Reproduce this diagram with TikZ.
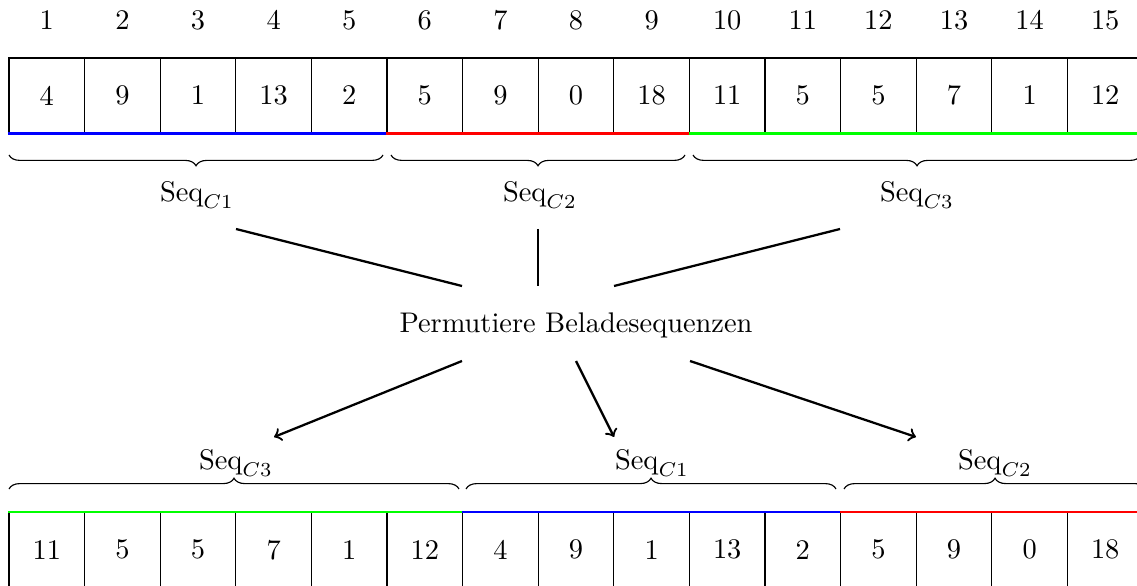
\documentclass[tikz,border=0pt]{standalone}
\usetikzlibrary{decorations.pathreplacing}
\begin{document}
\begin{tikzpicture}[x=0.352pt,y=-0.352pt,
  cell/.style={draw,inner sep=0pt,minimum width=26.6112pt,minimum height=26.4pt},
  seg/.style={thick},
  brc/.style={decorate,decoration={brace,amplitude=3.8pt}},
  conn/.style={thick},
  arr/.style={thick,->}]
\useasboundingbox (0,0) rectangle (1137,586);
\clip (0,0) rectangle (1137,586);
% top row
\foreach \v [count=\i] in {4,9,1,13,2,5,9,0,18,11,5,5,7,1,12}{
  \node[cell] (t\i) at ({9+(\i-0.5)*75.6},95.5) {\v};
  \node (n\i) at ({9+(\i-0.5)*75.6},20) {\i};
}
\draw[seg,blue] (t1.south west) -- (t5.south east);
\draw[seg,red] (t6.south west) -- (t9.south east);
\draw[seg,green] (t10.south west) -- (t15.south east);
% bottom row
\foreach \v [count=\i] in {11,5,5,7,1,12,4,9,1,13,2,5,9,0,18}{
  \node[cell] (b\i) at ({9+(\i-0.5)*75.6},549.8) {\v};
}
\draw[seg,green] (b1.north west) -- (b6.north east);
\draw[seg,blue] (b7.north west) -- (b11.north east);
\draw[seg,red] (b12.north west) -- (b15.north east);
% top braces
\draw[brc] (383,155) -- (9,155);
\draw[brc] (685,155) -- (391,155);
\draw[brc] (1141,155) -- (693,155);
\node (s1) at (197,195) {$\mathrm{Seq}_{C1}$};
\node (s2) at (540,195) {$\mathrm{Seq}_{C2}$};
\node (s3) at (917,195) {$\mathrm{Seq}_{C3}$};
% bottom braces
\draw[brc] (9,489) -- (459,489);
\draw[brc] (466,489) -- (836,489);
\draw[brc] (844,489) -- (1146,489);
\node (u1) at (236,463) {$\mathrm{Seq}_{C3}$};
\node (u2) at (652,463) {$\mathrm{Seq}_{C1}$};
\node (u3) at (995,463) {$\mathrm{Seq}_{C2}$};
% center
\node (p) at (576,325) {Permutiere Beladesequenzen};
\coordinate (c1a) at (236,229); \coordinate (c1b) at (462,286);
\coordinate (c2a) at (538,229); \coordinate (c2b) at (538,286);
\coordinate (c3a) at (840,229); \coordinate (c3b) at (614,286);
\draw[conn] (c1a) -- (c1b);
\draw[conn] (c2a) -- (c2b);
\draw[conn] (c3a) -- (c3b);
\coordinate (a1) at (462,361); \coordinate (e1) at (274,437);
\coordinate (a2) at (576,361); \coordinate (e2) at (614,437);
\coordinate (a3) at (690,361); \coordinate (e3) at (916,437);
\draw[arr] (a1) -- (e1);
\draw[arr] (a2) -- (e2);
\draw[arr] (a3) -- (e3);
\end{tikzpicture}
\end{document}
